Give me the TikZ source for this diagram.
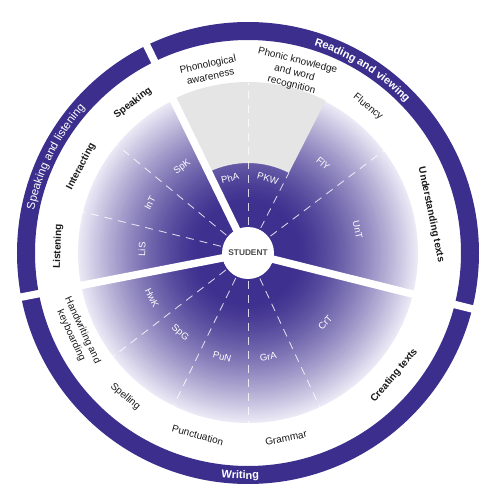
\documentclass[tikz,border=0pt]{standalone}
\usepackage{fontspec}
\setmainfont{Liberation Sans}
\usetikzlibrary{decorations.text}
\definecolor{ringc}{RGB}{60,46,140}
\definecolor{darkc}{RGB}{62,48,143}
\definecolor{lightc}{RGB}{236,234,246}
\definecolor{grayc}{RGB}{229,229,229}
\definecolor{txtc}{RGB}{25,25,25}
\definecolor{stuc}{RGB}{75,75,75}
\newcommand\ringbf{\fontsize{11}{13}\selectfont\bfseries}
\newcommand\ringrg{\fontsize{11.5}{13}\selectfont}
\begin{document}
\begin{tikzpicture}[x=1pt,y=1pt,
  lab/.style={font=\fontsize{10}{12.5}\selectfont, text=txtc, align=center, inner sep=0pt},
  blab/.style={font=\fontsize{10}{12.5}\selectfont\bfseries, text=txtc, align=center, inner sep=0pt},
  ilab/.style={font=\fontsize{9.5}{11}\selectfont, text=white, inner sep=0pt},
  dsh/.style={white, opacity=0.8, line width=0.85pt, dash pattern=on 8pt off 6pt},
  sepline/.style={white, line width=7.5pt}]
\useasboundingbox (-248,-247) rectangle (245,253);
\coordinate (O) at (0,0);
% wedges: radial gradient drawn as concentric discs
\foreach \r in {170,169,...,52} {
  \pgfmathsetmacro\t{100*pow((\r-50)/120,1.35)}
  \fill[lightc!\t!darkc] (O) circle (\r);
}
\fill[darkc] (O) circle (51);
\fill[grayc] (63:90) arc[start angle=63,end angle=116,radius=90] -- (116:171) arc[start angle=116,end angle=63,radius=171] -- cycle;
\foreach \a in {37,90,140.5,166,217.5,244,270,295} \draw[dsh] (\a:28) -- (\a:170);
\draw[dsh] (63:28) -- (63:90);
% ring
\fill[ringc, even odd rule] (O) circle (231) circle (213);
% separators
\foreach \a in {-14,116,191} \draw[sepline] (O) -- (\a:240);
% centre
\node[circle, fill=white, minimum size=52pt, inner sep=0pt, font=\fontsize{8.3}{10}\selectfont\bfseries, text=stuc] (student) at (O) {STUDENT};
% ring texts
\path[decorate, decoration={text along path, text={|\ringbf|Reading and viewing}, text align=center, text color=white}] (88:218) arc[start angle=88,end angle=28,radius=218];
\path[decorate, decoration={text along path, text={|\ringrg|Speaking and listening}, text align=center, text color=white}] (185:218) arc[start angle=185,end angle=122,radius=218];
\path[decorate, decoration={text along path, text={|\ringbf|Writing}, text align=center, text color=white}] (238:226) arc[start angle=238,end angle=298,radius=226];
% outer labels
\node[lab, rotate=12] (l1) at (102:187) {Phonological\\awareness};
\node[lab, rotate=-14] (l2) at (75.5:186) {Phonic knowledge\\and word\\recognition};
\node[lab, rotate=-39.4] (l3) at (50.6:189) {Fluency};
\node[blab, rotate=-78.2] (l4) at (11.8:187) {Understanding texts};
\node[blab, rotate=37.5] (l5) at (127.5:189) {Speaking};
\node[blab, rotate=62.6] (l6) at (152.6:188) {Interacting};
\node[blab, rotate=88] (l7) at (178:190) {Listening};
\node[lab, rotate=-65] (l8) at (205:189) {Handwriting and\\keyboarding};
\node[lab, rotate=-40.5] (l9) at (229.5:189) {Spelling};
\node[lab, rotate=-15.4] (l10) at (254.6:189) {Punctuation};
\node[lab, rotate=11.6] (l11) at (281.6:189) {Grammar};
\node[blab, rotate=50] (l12) at (320:191) {Creating texts};
% inner labels
\node[ilab, rotate=13.5] (i1) at (103.5:77) {PhA};
\node[ilab, rotate=-15] (i2) at (75:77) {PKW};
\node[ilab, rotate=-40] (i3) at (50:117) {FlY};
\node[ilab, rotate=-78] (i4) at (11.8:112) {UnT};
\node[ilab, rotate=37.5] (i5) at (127.5:108) {SpK};
\node[ilab, rotate=63] (i6) at (153:110) {InT};
\node[ilab, rotate=88] (i7) at (178:106) {LiS};
\node[ilab, rotate=-65] (i8) at (205:106) {HwK};
\node[ilab, rotate=-40] (i9) at (229.6:105) {SpG};
\node[ilab, rotate=-14] (i10) at (256:107) {PuN};
\node[ilab, rotate=11] (i11) at (281:106) {GrA};
\node[ilab, rotate=48] (i12) at (318:104) {CrT};
\end{tikzpicture}
\end{document}
